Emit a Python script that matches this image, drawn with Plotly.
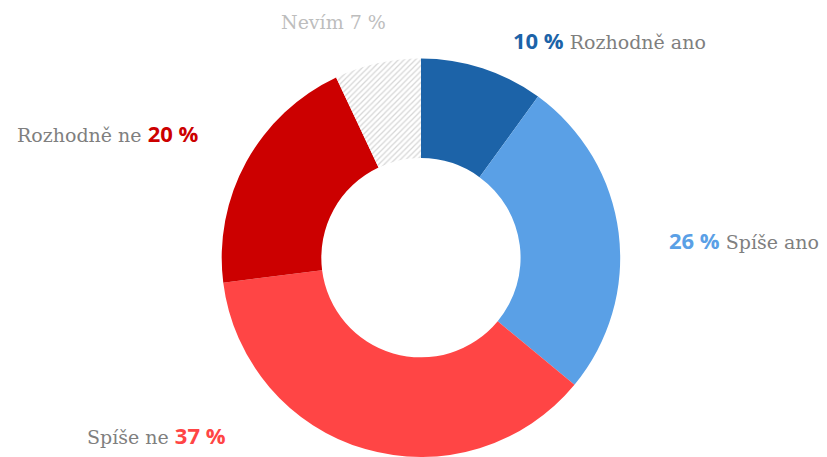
import plotly.graph_objects as go

labels = ["Rozhodně ano", "Spíše ano", "Spíše ne", "Rozhodně ne", "Nevím"]
values = [10, 26, 37, 20, 7]
colors = ["#1c63a8", "#5aa0e6", "#ff4545", "#cc0000", "#ffffff"]
label_colors = ["#1c63a8", "#5aa0e6", "#ff4545", "#cc0000", "#bdbdbd"]

fig = go.Figure(go.Pie(
    labels=labels, values=values, sort=False, direction="clockwise", rotation=0,
    hole=0.5, textinfo="none", hoverinfo="label+percent",
    marker=dict(colors=colors, line=dict(width=0),
                pattern=dict(shape=["", "", "", "", "/"], fgcolor="#d6d6d6",
                             bgcolor="#ffffff", size=4, solidity=0.3)),
    domain=dict(x=[0.018, 1], y=[0, 0.872]),
    showlegend=False,
))

W, H = 827, 457
grey = "#7f7f7f"
serif = "DejaVu Serif"
sans = "Open Sans"

def pct(i):
    v = f"{values[i]} %"
    return f"<span style='font-family:{sans};color:{label_colors[i]};font-size:22px'><b>{v}</b></span>"

ann = [
    (0, 511, 40, "left", lambda: pct(0) + f" {labels[0]}"),
    (1, 667, 240, "left", lambda: pct(1) + f" {labels[1]}"),
    (2, 228, 435, "right", lambda: f"{labels[2]} " + pct(2)),
    (3, 201, 133, "right", lambda: f"{labels[3]} " + pct(3)),
    (4, 333, 22, "center", lambda: f"{labels[4]} {values[4]} %"),
]
annotations = []
for i, px, py, anchor, txt in ann:
    annotations.append(dict(
        x=px / W, y=1 - py / H, xref="paper", yref="paper",
        xanchor=anchor, yanchor="middle", showarrow=False,
        text=txt(),
        font=dict(family=serif, size=19, color=label_colors[4] if i == 4 else grey),
    ))

fig.update_layout(
    width=W, height=H, margin=dict(l=0, r=0, t=0, b=0),
    paper_bgcolor="white", plot_bgcolor="white",
    annotations=annotations,
)
fig.write_html("out.html")
